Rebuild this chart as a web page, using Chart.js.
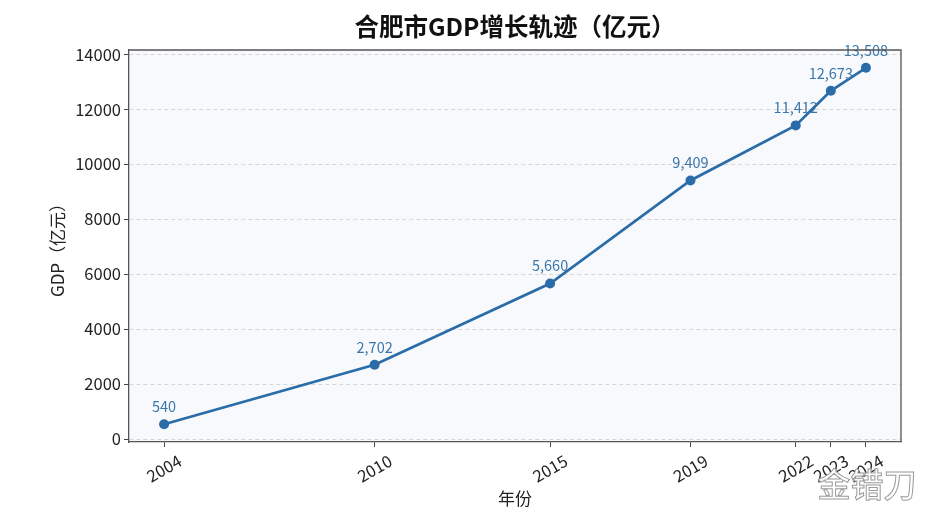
<!DOCTYPE html>
<html>
<head>
<meta charset="utf-8">
<script src="https://cdn.jsdelivr.net/npm/chart.js@4.4.1/dist/chart.umd.min.js"></script>
<style>
  html, body { margin: 0; padding: 0; background: #ffffff; }
  #wrap { width: 939px; height: 522px; position: relative; }
</style>
</head>
<body>
<div id="wrap"><canvas id="c"></canvas></div>
<script>
// ---- data ----
const years = [2004, 2010, 2015, 2019, 2022, 2023, 2024];
const gdp = [540, 2702, 5660, 9409, 11412, 12673, 13508];
const yTicks = [0, 2000, 4000, 6000, 8000, 10000, 12000, 14000];
const titleText = '合肥市GDP增长轨迹（亿元）';
const xTitle = '年份';
const yTitle = 'GDP（亿元）';
const watermark = '金错刀';

const FONT = '"Noto Sans CJK SC", "Noto Sans", sans-serif';
const lineColor = '#2a6ca8';
const labelColor = '#3a76ab';
const axisColor = '#555555';

const bgPlugin = {
  id: 'bg',
  beforeDraw(chart) {
    const { ctx, chartArea: a } = chart;
    ctx.save();
    ctx.fillStyle = '#ffffff';
    ctx.fillRect(0, 0, chart.width, chart.height);
    ctx.fillStyle = '#f7f9fc';
    ctx.fillRect(a.left, a.top, a.right - a.left, a.bottom - a.top);
    ctx.restore();
  }
};

const labelPlugin = {
  id: 'labels',
  afterDatasetsDraw(chart) {
    const { ctx } = chart;
    const meta = chart.getDatasetMeta(0);
    ctx.save();
    ctx.font = '14.5px ' + FONT;
    ctx.fillStyle = labelColor;
    ctx.textAlign = 'center';
    ctx.textBaseline = 'alphabetic';
    meta.data.forEach((pt, i) => {
      ctx.fillText(gdp[i].toLocaleString('en-US'), pt.x, pt.y - 12);
    });
    ctx.restore();
  },
  afterDraw(chart) {
    const { ctx, chartArea: a } = chart;
    const xs = chart.scales.x;
    ctx.save();
    // top and right spines
    ctx.strokeStyle = axisColor;
    ctx.lineWidth = 1.3;
    ctx.beginPath();
    ctx.moveTo(a.left, a.top);
    ctx.lineTo(a.right, a.top);
    ctx.lineTo(a.right, a.bottom);
    ctx.stroke();
    // rotated x tick labels
    ctx.font = '16.5px ' + FONT;
    ctx.fillStyle = '#222222';
    ctx.textAlign = 'center';
    ctx.textBaseline = 'middle';
    years.forEach(y => {
      const px = xs.getPixelForValue(y);
      ctx.save();
      ctx.translate(px, a.bottom + 26.5);
      ctx.rotate(-Math.PI / 6);
      ctx.fillText(String(y), 0, 0);
      ctx.restore();
    });
    // watermark
    ctx.font = '500 33px ' + FONT;
    ctx.textAlign = 'center';
    ctx.textBaseline = 'middle';
    ctx.fillStyle = 'rgba(255,255,255,0.95)';
    ctx.fillText(watermark, 867, 484);
    ctx.strokeStyle = '#9a9a9a';
    ctx.lineWidth = 1;
    ctx.strokeText(watermark, 867, 484);
    ctx.restore();
  }
};

new Chart(document.getElementById('c'), {
  type: 'line',
  data: {
    datasets: [{
      data: years.map((y, i) => ({ x: y, y: gdp[i] })),
      borderColor: lineColor,
      backgroundColor: lineColor,
      borderWidth: 2.7,
      pointRadius: 5,
      pointBackgroundColor: lineColor,
      pointBorderColor: lineColor,
      pointBorderWidth: 0,
      tension: 0,
      fill: false
    }]
  },
  options: {
    responsive: true,
    maintainAspectRatio: false,
    animation: false,
    devicePixelRatio: 1,
    layout: { padding: { left: 0, right: 38, top: 0, bottom: 0 } },
    plugins: {
      legend: { display: false },
      tooltip: { enabled: false },
      title: {
        display: true,
        fullSize: false,
        text: titleText,
        color: '#111111',
        font: { family: FONT, size: 24.5, weight: 'bold', lineHeight: 1.2 },
        padding: { top: 12.3, bottom: 8.3 }
      }
    },
    scales: {
      x: {
        type: 'linear',
        min: 2003,
        max: 2025,
        afterBuildTicks: (s) => { s.ticks = years.map(v => ({ value: v })); },
        afterFit: (s) => { s.height = 80; },
        ticks: { display: false },
        grid: {
          display: true,
          drawOnChartArea: false,
          drawTicks: true,
          tickLength: 5,
          tickColor: '#444444',
          tickWidth: 1
        },
        border: { display: true, color: axisColor, width: 1.3 },
        title: {
          display: true,
          text: xTitle,
          color: '#222222',
          font: { family: FONT, size: 17, lineHeight: 1.2 },
          padding: { top: 0, bottom: 12.8 }
        }
      },
      y: {
        type: 'linear',
        min: -108,
        max: 14156,
        afterBuildTicks: (s) => { s.ticks = yTicks.map(v => ({ value: v })); },
        afterFit: (s) => { s.width = 129; },
        ticks: {
          color: '#222222',
          font: { family: FONT, size: 16.5 },
          padding: 3,
          callback: (v) => String(v)
        },
        grid: {
          display: true,
          drawOnChartArea: true,
          drawTicks: true,
          tickLength: 5,
          color: '#d6d6d6',
          lineWidth: 1,
          tickColor: '#444444',
          tickWidth: 1,
          tickBorderDash: []
        },
        border: { display: true, color: axisColor, width: 1.3, dash: [4, 3] },
        title: {
          display: true,
          text: yTitle,
          color: '#222222',
          font: { family: FONT, size: 17, lineHeight: 1.2 },
          padding: { top: 47, bottom: 0 }
        }
      }
    }
  },
  plugins: [bgPlugin, labelPlugin]
});
</script>
</body>
</html>
